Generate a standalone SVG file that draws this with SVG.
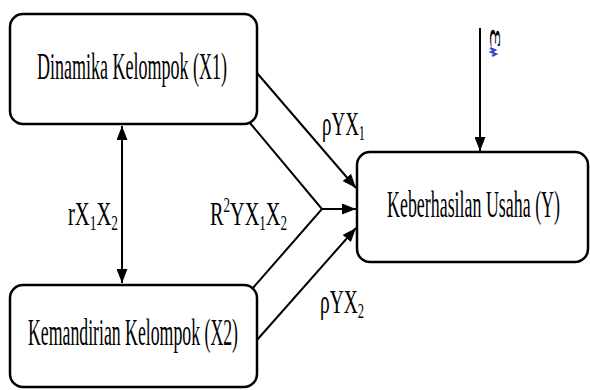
<svg xmlns="http://www.w3.org/2000/svg" width="590" height="390" viewBox="0 0 590 390">
<style>
.box{fill:#fff;stroke:#000;stroke-width:2.5}
.t{font-family:"Liberation Serif","Times New Roman",serif;font-size:34px;fill:#000}
.b{font-size:37px}
.s{font-size:22px}
.ln{stroke:#000;stroke-width:2;fill:none}
</style>
<defs>
<marker id="ahL" viewBox="0 0 10 10" refX="10" refY="5" markerWidth="14" markerHeight="11" markerUnits="userSpaceOnUse" orient="auto-start-reverse" preserveAspectRatio="none">
<path d="M0,0 L10,5 L0,10 z" fill="#000"/>
</marker>
</defs>
<g id="connectors">
<line class="ln" x1="122" y1="126" x2="122" y2="283" marker-start="url(#ahL)" marker-end="url(#ahL)"/>
<line class="ln" x1="480" y1="28" x2="480" y2="151" marker-end="url(#ahL)"/>
<line class="ln" x1="257" y1="73" x2="356" y2="188" marker-end="url(#ahL)"/>
<polyline class="ln" points="250,123 322,209 252,289"/>
<line class="ln" x1="322" y1="209" x2="356" y2="209" marker-end="url(#ahL)"/>
<line class="ln" x1="257" y1="340" x2="356" y2="228" marker-end="url(#ahL)"/>
</g>
<g id="x1">
<rect class="box" x="10" y="14" width="247" height="110" rx="13"/>
<text class="t b" x="37" y="79" textLength="190" lengthAdjust="spacingAndGlyphs">Dinamika Kelompok (X1)</text>
</g>
<g id="x2">
<rect class="box" x="10" y="285" width="247" height="102" rx="13"/>
<text class="t b" x="28" y="345" textLength="210" lengthAdjust="spacingAndGlyphs">Kemandirian Kelompok (X2)</text>
</g>
<g id="y">
<rect class="box" x="357" y="152" width="231" height="110" rx="13"/>
<text class="t b" x="387" y="217" textLength="173" lengthAdjust="spacingAndGlyphs">Keberhasilan Usaha (Y)</text>
</g>
<g id="labels">
<text class="t" x="322" y="135" textLength="43" lengthAdjust="spacingAndGlyphs">ρYX<tspan class="s" dy="5">1</tspan></text>
<text class="t" x="320" y="313" textLength="44" lengthAdjust="spacingAndGlyphs">ρYX<tspan class="s" dy="5">2</tspan></text>
<text class="t" x="68" y="225" textLength="50" lengthAdjust="spacingAndGlyphs">rX<tspan class="s" dy="5">1</tspan><tspan dy="-5">X</tspan><tspan class="s" dy="5">2</tspan></text>
<text class="t" x="210" y="225" textLength="77" lengthAdjust="spacingAndGlyphs">R<tspan class="s" dy="-13">2</tspan><tspan dy="13">YX</tspan><tspan class="s" dy="5">1</tspan><tspan dy="-5">X</tspan><tspan class="s" dy="5">2</tspan></text>
<text class="t" x="0" y="0" font-size="30px" transform="translate(490,28) rotate(90) scale(1.4,0.6)">ε</text>
<path d="M490,48 l5,2 l-4,2 l5,2 l-4,2" stroke="#3344cc" stroke-width="2" fill="none"/>
</g>
</svg>
